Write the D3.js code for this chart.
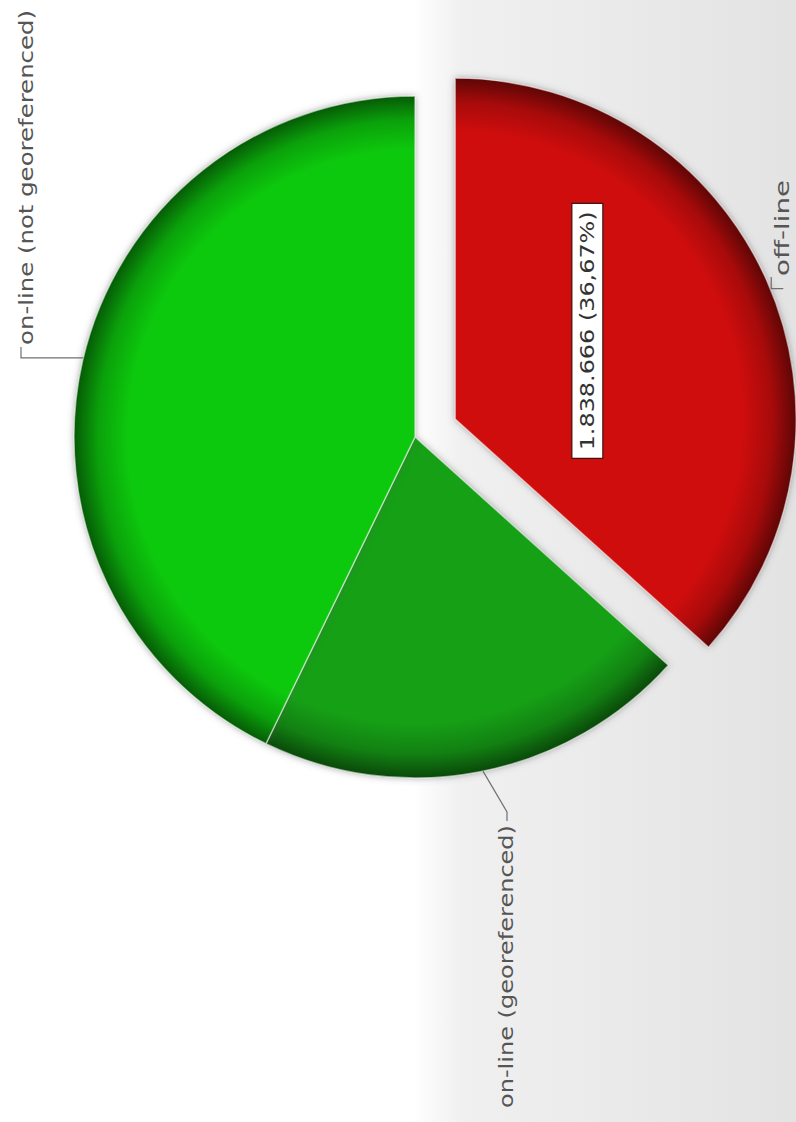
<!DOCTYPE html>
<html>
<head>
<meta charset="utf-8">
<script src="https://cdn.jsdelivr.net/npm/d3@7"></script>
<style>
  html, body { margin: 0; padding: 0; background: #fff; }
  svg { display: block; }
</style>
</head>
<body>
<svg id="chart" width="796" height="1122"></svg>
<script>
// ---- data ----
const categories = ["off-line", "on-line (georeferenced)", "on-line (not georeferenced)"];
const values = [1838666, 1029400, 2146022];
const colors = ["#d00f0f", "#12a012", "#10c910"];
const explodeIdx = 0;   // the off-line slice is pulled out

// ---- layout ----
const W = 796, H = 1122;
const cx = 415, cy = 437, R = 341, explodeDist = 44;
const FONT = "'DejaVu Sans', Verdana, sans-serif";

const svg = d3.select("#chart");
const defs = svg.append("defs");

// background gradient
const bg = defs.append("linearGradient").attr("id", "bg").attr("x1", 0).attr("x2", 1).attr("y1", 0).attr("y2", 0);
[[0, "#ffffff"], [0.52, "#ffffff"], [0.58, "#f0f0f0"], [1, "#e3e3e3"]].forEach(([o, c]) =>
  bg.append("stop").attr("offset", o).attr("stop-color", c));
svg.append("rect").attr("width", W).attr("height", H).attr("fill", "url(#bg)");

// rim shading gradient (centred on each slice's own origin)
const rim = defs.append("radialGradient").attr("id", "rim").attr("gradientUnits", "userSpaceOnUse")
  .attr("cx", 0).attr("cy", 0).attr("r", R);
[[0, 0], [0.84, 0], [0.93, 0.2], [1, 0.55]].forEach(([o, a]) =>
  rim.append("stop").attr("offset", o).attr("stop-color", "#000").attr("stop-opacity", a));

// drop shadow
const f = defs.append("filter").attr("id", "shadow").attr("x", "-10%").attr("y", "-10%").attr("width", "120%").attr("height", "120%");
f.append("feGaussianBlur").attr("in", "SourceAlpha").attr("stdDeviation", 3.5).attr("result", "b");
f.append("feFlood").attr("flood-color", "#555").attr("flood-opacity", 0.55);
f.append("feComposite").attr("in2", "b").attr("operator", "in").attr("result", "s");
const fm = f.append("feMerge");
fm.append("feMergeNode").attr("in", "s");
fm.append("feMergeNode").attr("in", "SourceGraphic");

const pie = d3.pie().sort(null).value(d => d)(values);
const arc = d3.arc().innerRadius(0).outerRadius(R);
const total = d3.sum(values);

const offsetOf = (d, i) => {
  if (i !== explodeIdx) return [0, 0];
  const mid = (d.startAngle + d.endAngle) / 2;
  return d3.pointRadial(mid, explodeDist);
};

// slices
const groups = svg.selectAll("g.slice").data(pie).join("g").attr("class", "slice")
  .attr("transform", (d, i) => { const o = offsetOf(d, i); return `translate(${cx + o[0]},${cy + o[1]})`; });

groups.append("path").attr("d", arc).attr("fill", (d, i) => colors[i])
  .attr("filter", "url(#shadow)");
groups.append("path").attr("d", arc).attr("fill", "url(#rim)")
  .attr("stroke", "rgba(255,255,255,0.55)").attr("stroke-width", 1.4);

// ---- value label on the exploded slice ----
const locale = d3.formatLocale({ decimal: ",", thousands: ".", grouping: [3], currency: ["", ""] });
const fmtNum = locale.format(",d");
const fmtPct = locale.format(".2f");
{
  const d = pie[explodeIdx];
  const o = offsetOf(d, explodeIdx);
  const mid = (d.startAngle + d.endAngle) / 2;
  const p = d3.pointRadial(mid - 0.17, R * 0.466);
  const txt = `${fmtNum(values[explodeIdx])} (${fmtPct(values[explodeIdx] / total * 100)}%)`;
  const g = svg.append("g").attr("transform", `translate(${cx + o[0] + p[0]},${cy + o[1] + p[1]}) rotate(-90)`);
  g.append("rect").attr("x", -127.5).attr("y", -15.5).attr("width", 255).attr("height", 31)
    .attr("fill", "#ffffff").attr("stroke", "#3a1010").attr("stroke-width", 1.2);
  g.append("text").attr("x", 0).attr("y", 7).attr("text-anchor", "middle")
    .attr("font-family", FONT).attr("font-size", 20).attr("fill", "#333")
    .attr("textLength", 239).attr("lengthAdjust", "spacingAndGlyphs").text(txt);
}

// ---- category labels with leader lines ----
// each: anchor angle on the rim (degrees), label baseline x, label start y, label length
const labelLayout = [
  { anchorDeg: 67.5, x: 789, y: 276, len: 96 },
  { anchorDeg: 168.5, x: 513, y: 1108, len: 283 },
  { anchorDeg: 283.4, x: 33, y: 345, len: 335 }
];
const lineCol = "#707070";
pie.forEach((d, i) => {
  const L = labelLayout[i];
  const o = offsetOf(d, i);
  const a = d3.pointRadial(L.anchorDeg * Math.PI / 180, R);
  const ax = cx + o[0] + a[0], ay = cy + o[1] + a[1];
  let pts;
  if (i === 0) {
    pts = [[ax + 1, L.y + 1], [ax + 1, ay], [ax + 13, ay]];
  } else if (i === 1) {
    pts = [[ax, ay], [L.x - 6, L.y - 296], [L.x - 6, L.y - 287]];
  } else {
    pts = [[ax, ay], [L.x - 12, ay], [L.x - 12, L.y + 2]];
  }
  svg.append("path").attr("d", d3.line()(pts)).attr("fill", "none")
    .attr("stroke", lineCol).attr("stroke-width", 1.2);
  svg.append("text").attr("transform", `translate(${L.x},${L.y}) rotate(-90)`)
    .attr("font-family", FONT).attr("font-size", 19).attr("fill", "#555")
    .attr("textLength", L.len).attr("lengthAdjust", "spacingAndGlyphs")
    .text(categories[i]);
});
</script>
</body>
</html>
